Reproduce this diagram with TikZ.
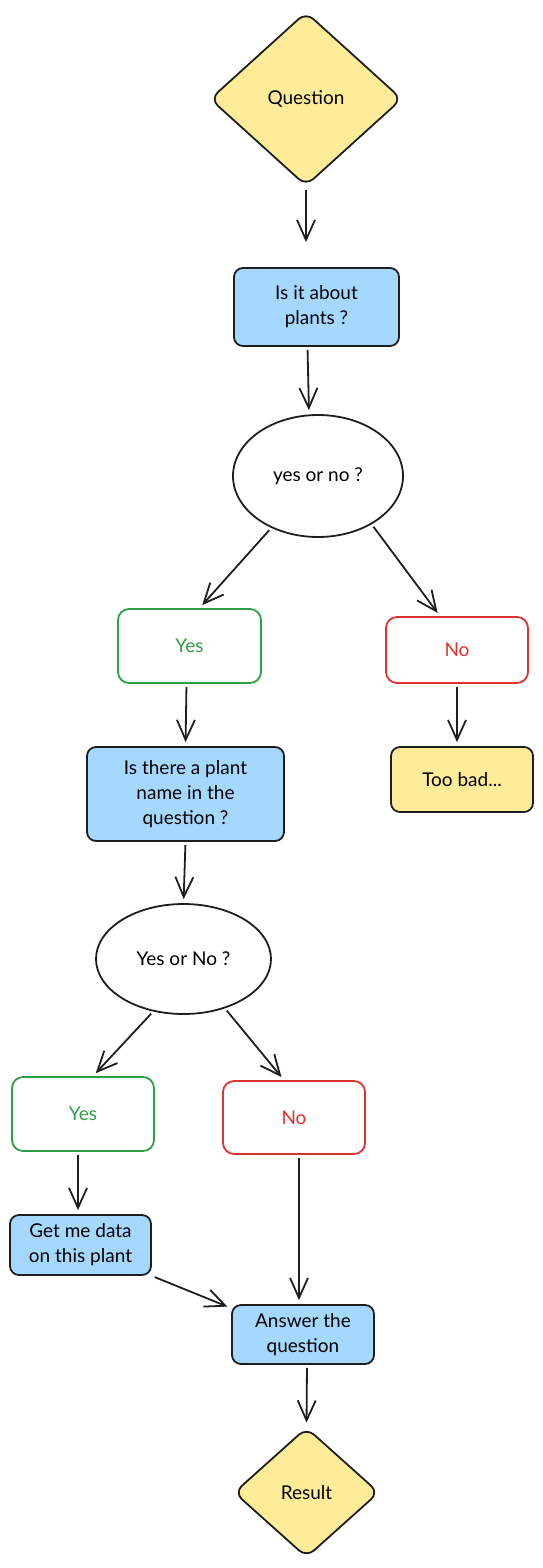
\documentclass[tikz,border=0pt]{standalone}
\usepackage{fontspec}
\setmainfont{Lato}
\usepackage{xcolor}
\definecolor{ink}{HTML}{1E1E1E}
\definecolor{sand}{HTML}{FFEC99}
\definecolor{sky}{HTML}{A5D8FF}
\definecolor{leaf}{HTML}{2F9E44}
\definecolor{brick}{HTML}{E03131}
\usepackage{tikz}
\usetikzlibrary{shapes.geometric,arrows.meta}
\tikzstyle{decision} = [diamond, draw=ink, fill=sand, line width=1.8pt,
  rounded corners=10pt, inner sep=0pt]
\tikzstyle{task} = [rectangle, draw=ink, fill=sky, line width=1.8pt,
  rounded corners=9pt, align=center, inner sep=2pt]
\tikzstyle{choice} = [ellipse, draw=ink, line width=1.8pt, inner sep=0pt]
\tikzstyle{yesbox} = [rectangle, draw=leaf, text=leaf, line width=1.8pt,
  rounded corners=11pt]
\tikzstyle{nobox} = [rectangle, draw=brick, text=brick, line width=1.8pt,
  rounded corners=11pt]
\tikzstyle{link} = [draw=ink, line width=1.8pt,
  -{Straight Barb[length=20pt,width=18pt]}, shorten <=3pt, shorten >=4pt]

\begin{document}
\begin{tikzpicture}[x=1pt, y=-1pt, font=\fontsize{19}{25}\selectfont]
  \useasboundingbox (0,0) rectangle (543,1568);
  \node[decision, minimum width=192pt, minimum height=174pt] (q) at (306, 99) {Question};
  \node[task, minimum width=165pt, minimum height=78pt] (b1) at (316.5, 307) {Is it about\\plants ?};
  \node[choice, minimum width=170pt, minimum height=122pt] (e1) at (318, 476) {yes or no ?};
  \node[yesbox, minimum width=143pt, minimum height=74pt] (y1) at (189.5, 646) {Yes};
  \node[nobox, minimum width=142pt, minimum height=66pt] (n1) at (457, 650) {No};
  \node[task, minimum width=197pt, minimum height=94pt] (b2) at (185.5, 794) {Is there a plant\\name in the\\question ?};
  \node[task, fill=sand, minimum width=142pt, minimum height=65pt] (t) at (462, 779.5) {Too bad...};
  \node[choice, minimum width=175pt, minimum height=110pt] (e2) at (183.5, 959) {Yes or No ?};
  \node[yesbox, minimum width=142pt, minimum height=74pt] (y2) at (83, 1114) {Yes};
  \node[nobox, minimum width=142pt, minimum height=73pt] (n2) at (294, 1117.5) {No};
  \node[task, minimum width=141pt, minimum height=60pt] (g) at (80.5, 1245) {Get me data\\on this plant};
  \node[task, minimum width=142pt, minimum height=59pt] (a) at (303, 1334.5) {Answer the\\question};
  \node[decision, minimum width=145pt, minimum height=130pt] (r) at (306.5, 1492.5) {Result};

  \path[link, shorten >=25pt] (q.south) -- (q.south |- b1.north);
  \path[link] ([xshift=-9pt]b1.south) -- ([xshift=-9pt]e1.north);
  \path[link] (e1.228) -- ([xshift=10pt]y1.north);
  \path[link] (e1.318) -- ([xshift=-17pt]n1.north);
  \path[link] ([xshift=-3pt]y1.south) -- (b2.north);
  \path[link] (n1.south) -- (n1.south |- t.north);
  \path[link] (b2.south) -- (e2.north);
  \path[link] (e2.240) -- ([xshift=10pt]y2.north);
  \path[link] (e2.310) -- ([xshift=-10pt]n2.north);
  \path[link] ([xshift=-5pt]y2.south) -- ([xshift=-2.5pt]g.north);
  \path[link] ([xshift=5pt]n2.south) -- ([xshift=-4pt]a.north);
  \path[link] (g.south east) -- ([yshift=-4pt]a.north west);
  \path[link] ([xshift=4pt]a.south) -- (r.north);
\end{tikzpicture}
\end{document}
